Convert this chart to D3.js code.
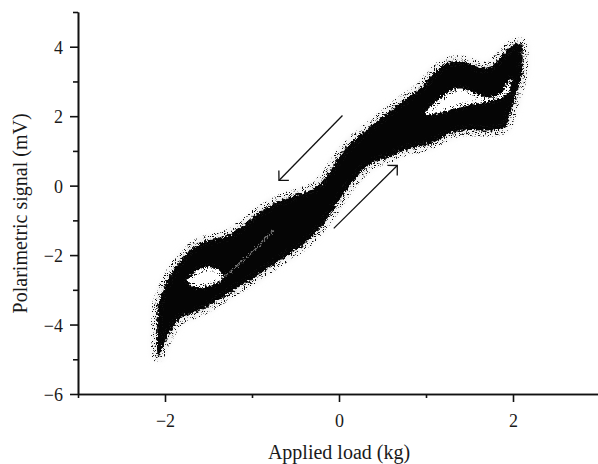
<!DOCTYPE html>
<html>
<head>
<meta charset="utf-8">
<script src="https://cdn.jsdelivr.net/npm/d3@7/dist/d3.min.js"></script>
<style>
body { margin:0; background:#fff; }
svg text { font-family:"Liberation Serif","Times New Roman",serif; fill:#1a1a1a; }
</style>
</head>
<body>
<div class="chart"></div>
<script>
// outline of the point cloud (load kg, signal mV)
var upperEdge = [[-2.08,-4.91],[-2.09,-4.16],[-2.08,-3.44],[-2.01,-2.95],[-1.94,-2.58],[-1.85,-2.24],[-1.76,-1.98],[-1.64,-1.72],[-1.51,-1.58],[-1.30,-1.46],[-1.09,-1.12],[-0.90,-0.74],[-0.70,-0.45],[-0.47,-0.25],[-0.29,-0.08],[-0.15,0.25],[0.00,0.83],[0.17,1.30],[0.36,1.70],[0.56,2.10],[0.74,2.45],[0.94,2.82],[1.09,3.25],[1.25,3.54],[1.43,3.57],[1.63,3.40],[1.74,3.43],[1.89,3.80],[1.99,4.03],[2.10,4.09]]
var rightEdge = [[2.11,3.74],[2.10,3.17],[2.05,2.74],[1.97,2.08],[1.90,1.67]]
var lowerEdge = [[1.74,1.59],[1.43,1.59],[1.25,1.47],[1.13,1.30],[0.94,1.13],[0.74,1.01],[0.56,0.81],[0.36,0.62],[0.17,0.15],[0.02,-0.36],[-0.10,-0.82],[-0.24,-1.29],[-0.44,-1.75],[-0.63,-2.06],[-0.82,-2.38],[-1.01,-2.72],[-1.21,-3.01],[-1.39,-3.30],[-1.59,-3.59],[-1.82,-3.82],[-1.93,-4.16],[-2.02,-4.59]]
// gaps inside the loop
var holeRight = [[0.99,2.07],[1.17,2.53],[1.30,2.76],[1.43,2.79],[1.57,2.65],[1.74,2.53],[1.85,2.65],[1.94,2.97],[1.97,3.08],[1.95,2.68],[1.80,2.48],[1.57,2.36],[1.34,2.22],[1.17,2.10]]
var holeLeft = [[-1.74,-2.72],[-1.63,-2.44],[-1.49,-2.35],[-1.38,-2.44],[-1.33,-2.64],[-1.43,-2.84],[-1.59,-2.93],[-1.70,-2.87]]
var streak = [[-1.33,-2.64],[-1.07,-2.09],[-0.75,-1.29]]
// direction arrows [from, to]
var arrows = [[[0.04,2.02],[-0.69,0.15]],[[-0.06,-1.23],[0.67,0.58]]]

var xMajor = [-2,0,2], xMinor = [-3,-1,1,3]
var yMajor = [-6,-4,-2,0,2,4], yMinor = [-5,-3,-1,1,3,5]

var width = 598, height = 464
var svg = d3.select(".chart").append("svg").attr("width",width).attr("height",height)

var x = d3.scaleLinear().domain([-3,3]).range([78,600])
var y = d3.scaleLinear().domain([-6,5]).range([394,12])

var defs = svg.append("defs")
var f = defs.append("filter").attr("id","rough").attr("x","-10%").attr("y","-10%").attr("width","120%").attr("height","120%")
	.attr("color-interpolation-filters","sRGB")
f.append("feTurbulence").attr("type","fractalNoise").attr("baseFrequency","0.45").attr("numOctaves","2").attr("seed","4").attr("result","noise")
f.append("feDisplacementMap").attr("in","SourceGraphic").attr("in2","noise").attr("scale","7").attr("xChannelSelector","R").attr("yChannelSelector","G")

// scattered dots along the edges of the cloud
var sp = defs.append("filter").attr("id","speckle").attr("x","-10%").attr("y","-10%").attr("width","120%").attr("height","120%")
	.attr("color-interpolation-filters","sRGB")
sp.append("feTurbulence").attr("type","fractalNoise").attr("baseFrequency","0.9").attr("numOctaves","1").attr("seed","11").attr("result","n")
sp.append("feColorMatrix").attr("in","n").attr("type","matrix")
	.attr("values","0 0 0 0 0  0 0 0 0 0  0 0 0 0 0  14 0 0 0 -8.2").attr("result","mask")
sp.append("feComposite").attr("in","SourceGraphic").attr("in2","mask").attr("operator","in")

var halo = defs.append("filter").attr("id","halo")
halo.append("feGaussianBlur").attr("stdDeviation","3")

var marker = defs.append("marker").attr("id","head").attr("markerUnits","userSpaceOnUse")
	.attr("markerWidth",20).attr("markerHeight",20).attr("refX",10).attr("refY",10).attr("orient","auto")
marker.append("path").attr("d","M3,3 L10,10 L3,17").attr("fill","none").attr("stroke","#111").attr("stroke-width",1.3)

var outline = upperEdge.concat(rightEdge).concat(lowerEdge)
var bandLine = d3.line().x(function(d){return x(d[0])}).y(function(d){return y(d[1])}).curve(d3.curveCatmullRomClosed)
var edgeLine = d3.line().x(function(d){return x(d[0])}).y(function(d){return y(d[1])}).curve(d3.curveCatmullRom)

// faint grey fringe around the cloud
svg.append("path").attr("d",bandLine(outline)).attr("fill","#ececec").attr("stroke","#ececec")
	.attr("stroke-width",8).attr("filter","url(#halo)")

var cloud = svg.append("g").attr("filter","url(#rough)")
cloud.append("path").attr("d",bandLine(outline)).attr("fill","#050505")
cloud.selectAll("path.hole").data([holeRight,holeLeft]).enter().append("path")
	.attr("class","hole")
	.attr("d",function(d){return bandLine(d)})
	.attr("fill","#fff")
cloud.append("path").attr("d",edgeLine(streak)).attr("fill","none").attr("stroke","#fff")
	.attr("stroke-width",1.4).attr("opacity",0.45)

var dots = svg.append("g").attr("filter","url(#speckle)")
dots.selectAll("path").data([outline,holeRight,holeLeft]).enter().append("path")
	.attr("d",function(d){return bandLine(d)})
	.attr("fill","none").attr("stroke","#111").attr("stroke-width",function(d,i){return i==0?12:8})

svg.selectAll("line.arrow").data(arrows).enter().append("line")
	.attr("class","arrow")
	.attr("x1",function(d){return x(d[0][0])}).attr("y1",function(d){return y(d[0][1])})
	.attr("x2",function(d){return x(d[1][0])}).attr("y2",function(d){return y(d[1][1])})
	.attr("stroke","#111").attr("stroke-width",1.3)
	.attr("marker-end","url(#head)")

// axes
var fmt = d3.format("")
var xAxis = svg.append("g").attr("transform","translate(0,394)")
xAxis.call(d3.axisBottom(x).tickValues(xMajor).tickSize(8).tickSizeOuter(0).tickFormat(fmt))
xAxis.append("g").call(d3.axisBottom(x).tickValues(xMinor).tickSize(4).tickSizeOuter(0).tickFormat(""))
var yAxis = svg.append("g").attr("transform","translate(78,0)")
yAxis.call(d3.axisLeft(y).tickValues(yMajor).tickSize(8).tickSizeOuter(0).tickFormat(fmt))
yAxis.append("g").call(d3.axisLeft(y).tickValues(yMinor).tickSize(5).tickSizeOuter(0).tickFormat(""))

svg.selectAll(".domain").attr("stroke","#111").attr("stroke-width",1.6)
svg.selectAll(".tick line").attr("stroke","#111").attr("stroke-width",1.6)
svg.selectAll(".tick text").attr("font-family","Liberation Serif, serif").attr("font-size",18).attr("fill","#1a1a1a")
xAxis.selectAll(".tick text").attr("y",33).attr("dy",0)
yAxis.selectAll(".tick text").attr("x",-15).attr("dy","0.36em")

svg.append("text").attr("x",x(0)).attr("y",459).attr("text-anchor","middle")
	.attr("font-size",20).text("Applied load (kg)")
svg.append("text").attr("transform","translate(27,"+y(-0.8)+") rotate(-90)").attr("text-anchor","middle")
	.attr("font-size",20).text("Polarimetric signal (mV)")
</script>
</body>
</html>
